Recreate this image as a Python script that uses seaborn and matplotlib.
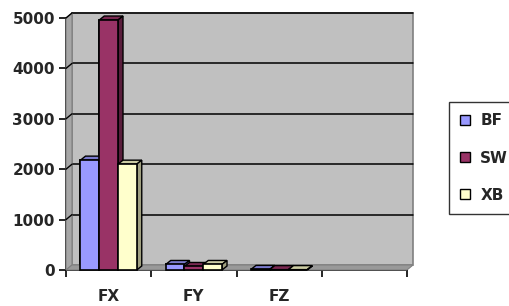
import matplotlib
matplotlib.use("Agg")
import matplotlib.pyplot as plt
import seaborn as sns
import pandas as pd
import numpy as np
from matplotlib.transforms import ScaledTranslation
from matplotlib.patches import Polygon, Rectangle

categories = ["FX", "FY", "FZ", ""]
series = ["BF", "SW", "XB"]
bf_values = [2180, 110, 12]
sw_values = [4960, 70, 8]
xb_values = [2100, 110, 8]
colors = {"BF": "#9999FF", "SW": "#993366", "XB": "#FFFFCC"}
side_colors = {"BF": "#7070BB", "SW": "#5A1E3C", "XB": "#A0A080"}
top_colors = {"BF": "#7A7ACC", "SW": "#7A2952", "XB": "#CCCCA3"}

rows = []
for s, vals in zip(series, [bf_values, sw_values, xb_values]):
    for c, v in zip(categories[:3], vals):
        rows.append({"cat": c, "series": s, "value": v})
df = pd.DataFrame(rows)

sns.set_style("white")
plt.rcParams["font.family"] = ["DejaVu Sans"]
FS = 11

W, H = 509, 306
fig = plt.figure(figsize=(W / 100, H / 100), dpi=100)
ax = fig.add_axes([66 / W, 1 - 270 / H, (407 - 66) / W, (270 - 18) / H])
ax.set_facecolor("none")

DX, DY = 6, 5  # wall depth in px
wall_off = ScaledTranslation(DX / 100, DY / 100, fig.dpi_scale_trans)

# back wall
ax.add_patch(Rectangle((0, 0), 1, 1, transform=ax.transAxes + wall_off, clip_on=False,
                       facecolor="#C0C0C0", edgecolor="#808080", lw=1.2, zorder=0))

sns.barplot(data=df, x="cat", y="value", hue="series", order=categories,
            hue_order=series, palette=colors, width=0.66, ax=ax,
            edgecolor="black", linewidth=1.2, saturation=1, zorder=3, legend=True)

ax.set_xlim(-0.5, 3.5)
ax.set_ylim(0, 5000)
ax.set_yticks([0, 1000, 2000, 3000, 4000, 5000])

fig.canvas.draw()
tA = ax.transAxes
p0 = tA.transform((0, 0)); p1 = tA.transform((0, 1)); p2 = tA.transform((1, 0))
off = np.array([DX, DY])
side = Polygon([p0, p1, p1 + off, p0 + off], closed=True, transform=None,
               facecolor="#A6A6A6", edgecolor="#808080", lw=0.8, zorder=0.5)
floor = Polygon([p0, p2, p2 + off, p0 + off], closed=True, transform=None,
                facecolor="#999999", edgecolor="#808080", lw=0.8, zorder=0.5)
fig.add_artist(side)
fig.add_artist(floor)

# gridlines on the back wall, with connectors from axis
for yv in [1000, 2000, 3000, 4000, 5000]:
    ax.plot([0, 1], [yv, yv], transform=ax.get_yaxis_transform() + wall_off,
            color="black", lw=1.1, zorder=1, clip_on=False)
    a = ax.get_yaxis_transform().transform((0, yv))
    fig.add_artist(plt.Line2D([a[0], a[0] + DX], [a[1], a[1] + DY], transform=None,
                              color="black", lw=1.0, zorder=1))

# 3D faces for bars
d = np.array([5, 4])
bars = [p for p in ax.patches if isinstance(p, Rectangle) and p.get_height() > 0 and p.get_width() < 1]
drawn = []
for p in bars:
    x, y, w, h = p.get_x(), p.get_y(), p.get_width(), p.get_height()
    fc = p.get_facecolor()
    key = None
    for s in series:
        if np.allclose(matplotlib.colors.to_rgba(colors[s]), fc, atol=0.02):
            key = s
    if key is None:
        continue
    tl = ax.transData.transform((x, y + h)); tr_ = ax.transData.transform((x + w, y + h))
    br = ax.transData.transform((x + w, y))
    top = Polygon([tl, tr_, tr_ + d, tl + d], closed=True, transform=None,
                  facecolor=top_colors[key], edgecolor="black", lw=1.0, zorder=2)
    sd = Polygon([br, tr_, tr_ + d, br + d], closed=True, transform=None,
                 facecolor=side_colors[key], edgecolor="black", lw=1.0, zorder=2)
    fig.add_artist(top); fig.add_artist(sd)
    drawn.append(p)

for p in drawn:
    x, y, w, h = p.get_x(), p.get_y(), p.get_width(), p.get_height()
    a = ax.transData.transform((x, y)); b = ax.transData.transform((x + w, y + h))
    fig.add_artist(Rectangle(a, b[0] - a[0], b[1] - a[1], transform=None,
                             facecolor=p.get_facecolor(), edgecolor="black", lw=1.2, zorder=3))

for sp in ["top", "right"]:
    ax.spines[sp].set_visible(False)
for sp in ["left", "bottom"]:
    ax.spines[sp].set_color("black")
    ax.spines[sp].set_linewidth(1.3)
    ax.spines[sp].set_zorder(6)

ax.set_xticks(range(4))
ax.set_xticklabels(categories, fontweight="bold", fontsize=FS)
ax.set_xticks([-0.5, 0.5, 1.5, 2.5, 3.5], minor=True)
ax.tick_params(axis="x", which="major", length=0, pad=14)
ax.tick_params(axis="x", which="minor", length=5, width=1.2, direction="out", color="black", bottom=True)
ax.tick_params(axis="y", length=5, width=1.2, direction="out", color="black", left=True, labelsize=FS, pad=3)
for lbl in ax.get_yticklabels():
    lbl.set_fontweight("bold")
ax.set_xlabel("")
ax.set_ylabel("")

leg = ax.legend(loc="center left", bbox_to_anchor=(449 / W, 1 - 158 / H), bbox_transform=fig.transFigure,
                frameon=True, fancybox=False, edgecolor="black", handlelength=0.6, handleheight=0.6,
                labelspacing=1.45, borderpad=0.75, handletextpad=0.7, borderaxespad=0,
                prop={"weight": "bold", "size": FS})
leg.get_frame().set_linewidth(1.0)
for h in leg.legend_handles:
    h.set_edgecolor("black")
    h.set_linewidth(1.0)

fig.savefig("out.png", dpi=100)
